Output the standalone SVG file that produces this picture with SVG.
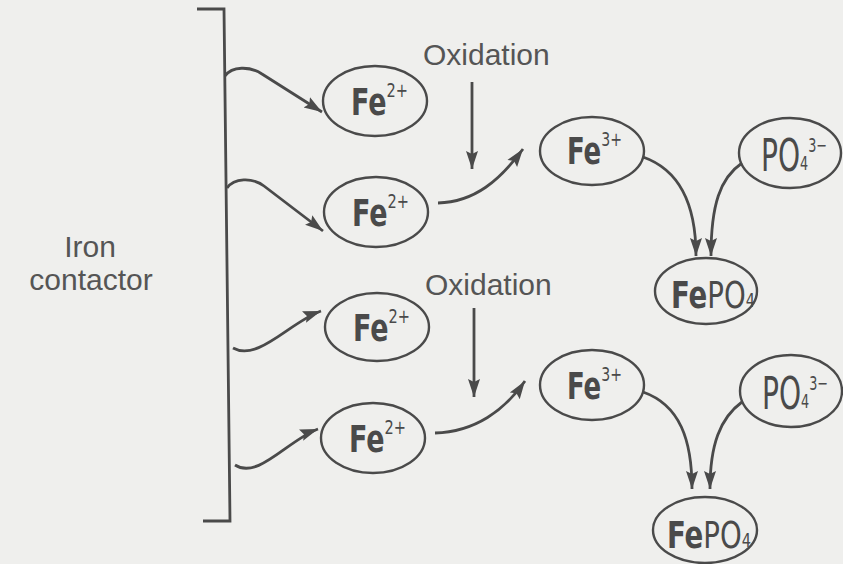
<svg xmlns="http://www.w3.org/2000/svg" width="843" height="564" viewBox="0 0 843 564">
<style>
.bg{fill:#efefed}
.node ellipse{fill:none;stroke:#4a4a4a;stroke-width:2.4}
.ln{fill:none;stroke:#4a4a4a;stroke-width:2.8}
.lbl{font-family:"Liberation Sans",Arial,sans-serif;font-size:30px;fill:#555555}
.chem{font-family:"DejaVu Sans Condensed","DejaVu Sans","Liberation Sans",sans-serif;fill:#4a4a4a}
.fe{font-size:37px;font-weight:bold}
.po{font-size:44px}
.sup{font-size:20px;font-weight:normal}
</style>
<defs>
<marker id="ah" markerUnits="userSpaceOnUse" markerWidth="20" markerHeight="14" viewBox="0 0 20 14" refX="18" refY="7" orient="auto">
<path d="M0,1 L18,7 L0,13 L3,7 Z" fill="#4a4a4a"/>
</marker>
</defs>
<rect class="bg" x="0" y="0" width="843" height="564"/>

<g id="bracket">
<path class="ln" d="M197,9 L224,9 L230,521 L203,521"/>
</g>
<g id="label-iron-contactor">
<text class="lbl" x="90" y="257" text-anchor="middle">Iron</text>
<text class="lbl" x="91" y="290" text-anchor="middle">contactor</text>
</g>
<g id="label-oxidation-1"><text class="lbl" x="423" y="65">Oxidation</text></g>
<g id="label-oxidation-2"><text class="lbl" x="425" y="295">Oxidation</text></g>

<g id="fe2-1" class="node">
<ellipse cx="375" cy="101" rx="52" ry="35"/>
<text class="chem fe" x="351" y="115" textLength="57" lengthAdjust="spacingAndGlyphs">Fe<tspan class="sup" dy="-18">2+</tspan></text>
</g>
<g id="fe2-2" class="node">
<ellipse cx="376" cy="212" rx="52" ry="35"/>
<text class="chem fe" x="352" y="226" textLength="57" lengthAdjust="spacingAndGlyphs">Fe<tspan class="sup" dy="-18">2+</tspan></text>
</g>
<g id="fe2-3" class="node">
<ellipse cx="377" cy="327" rx="52" ry="34"/>
<text class="chem fe" x="353" y="341" textLength="57" lengthAdjust="spacingAndGlyphs">Fe<tspan class="sup" dy="-18">2+</tspan></text>
</g>
<g id="fe2-4" class="node">
<ellipse cx="373" cy="438" rx="52" ry="35"/>
<text class="chem fe" x="349" y="452" textLength="57" lengthAdjust="spacingAndGlyphs">Fe<tspan class="sup" dy="-18">2+</tspan></text>
</g>

<g id="fe3-1" class="node">
<ellipse cx="592" cy="151" rx="52" ry="34"/>
<text class="chem fe" x="567" y="164" textLength="55" lengthAdjust="spacingAndGlyphs">Fe<tspan class="sup" dy="-18">3+</tspan></text>
</g>
<g id="po4-1" class="node">
<ellipse cx="790" cy="153" rx="51" ry="35"/>
<text class="chem po" x="761" y="171" textLength="66" lengthAdjust="spacingAndGlyphs">PO<tspan class="sup" dy="-1">4</tspan><tspan class="sup" dy="-18">3−</tspan></text>
</g>
<g id="fepo4-1" class="node">
<ellipse cx="706" cy="291" rx="51" ry="33"/>
<text class="chem" x="671" y="308" font-size="38" textLength="84" lengthAdjust="spacingAndGlyphs"><tspan font-weight="bold">Fe</tspan>PO<tspan class="sup" dy="-1">4</tspan></text>
</g>

<g id="fe3-2" class="node">
<ellipse cx="592" cy="385" rx="52" ry="35"/>
<text class="chem fe" x="567" y="399" textLength="55" lengthAdjust="spacingAndGlyphs">Fe<tspan class="sup" dy="-18">3+</tspan></text>
</g>
<g id="po4-2" class="node">
<ellipse cx="791" cy="391" rx="51" ry="36"/>
<text class="chem po" x="762" y="409" textLength="66" lengthAdjust="spacingAndGlyphs">PO<tspan class="sup" dy="-1">4</tspan><tspan class="sup" dy="-18">3−</tspan></text>
</g>
<g id="fepo4-2" class="node">
<ellipse cx="705" cy="530" rx="52" ry="33"/>
<text class="chem" x="667" y="548" font-size="38" textLength="84" lengthAdjust="spacingAndGlyphs"><tspan font-weight="bold">Fe</tspan>PO<tspan class="sup" dy="-1">4</tspan></text>
</g>

<g id="connectors">
<path class="ln" marker-end="url(#ah)" d="M225,76 C232,66 250,66 262,74 L322,112"/>
<path class="ln" marker-end="url(#ah)" d="M227,188 C234,178 252,177 264,186 L323,231"/>
<path class="ln" marker-end="url(#ah)" d="M233,348 C258,362 290,322 321,311"/>
<path class="ln" marker-end="url(#ah)" d="M235,465 C258,480 288,440 318,429"/>
<path class="ln" marker-end="url(#ah)" d="M472,82 L472,169"/>
<path class="ln" marker-end="url(#ah)" d="M474,308 L474,397"/>
<path class="ln" marker-end="url(#ah)" d="M438,203 C475,202 500,180 523,149"/>
<path class="ln" marker-end="url(#ah)" d="M435,433 C475,432 505,410 525,381"/>
<path class="ln" marker-end="url(#ah)" d="M643,157 C680,170 696,205 696,256"/>
<path class="ln" marker-end="url(#ah)" d="M742,163 C720,178 711,205 711,256"/>
<path class="ln" marker-end="url(#ah)" d="M643,392 C680,405 692,440 692,489"/>
<path class="ln" marker-end="url(#ah)" d="M742,402 C720,418 710,445 710,489"/>
</g>
</svg>
